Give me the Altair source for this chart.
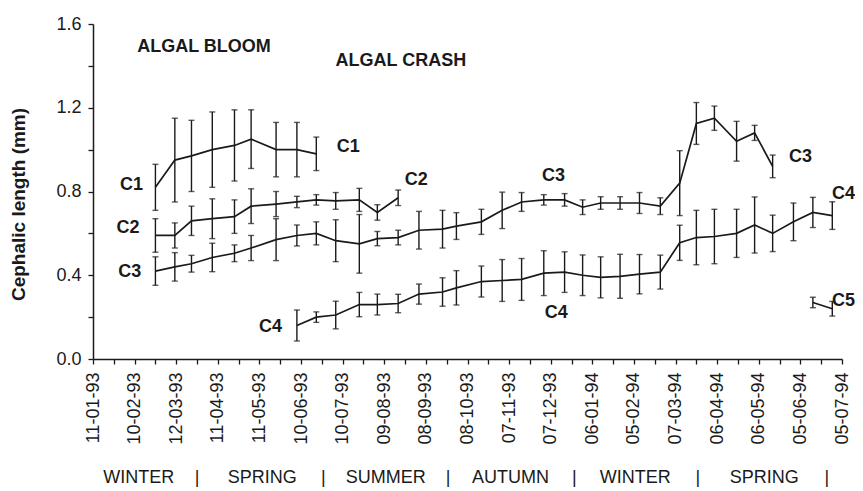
import altair as alt
import pandas as pd

# ---------------- data ----------------
x_tick_labels = ["11-01-93", "10-02-93", "12-03-93", "11-04-93", "11-05-93",
                 "10-06-93", "10-07-93", "09-08-93", "08-09-93", "08-10-93",
                 "07-11-93", "07-12-93", "06-01-94", "05-02-94", "07-03-94",
                 "06-04-94", "06-05-94", "05-06-94", "05-07-94"]

# sampling day = days after 11-01-93
c1_day = [45, 59, 71, 86, 102, 114, 132, 147, 161]
c1_mean = [0.82, 0.95, 0.97, 1.00, 1.02, 1.05, 1.00, 1.00, 0.98]
c1_sd = [0.11, 0.20, 0.17, 0.18, 0.17, 0.14, 0.13, 0.13, 0.08]

c2_day = [45, 59, 71, 86, 102, 114, 132, 147, 161, 175, 192, 205, 220]
c2_mean = [0.59, 0.59, 0.66, 0.67, 0.68, 0.73, 0.74, 0.75, 0.76, 0.755, 0.76, 0.70, 0.77]
c2_sd = [0.08, 0.06, 0.07, 0.095, 0.08, 0.083, 0.06, 0.027, 0.025, 0.04, 0.055, 0.037, 0.037]

c3_day = [45, 59, 71, 86, 102, 114, 132, 147, 161, 175, 192, 205, 220, 235, 252, 262,
          280, 295, 309, 325, 340, 353, 366, 380, 394, 409, 423, 435, 448, 464, 477, 490]
c3_mean = [0.42, 0.44, 0.455, 0.485, 0.505, 0.53, 0.57, 0.59, 0.60, 0.565, 0.55, 0.575,
           0.58, 0.615, 0.62, 0.635, 0.655, 0.71, 0.75, 0.76, 0.76, 0.725, 0.745, 0.745,
           0.745, 0.73, 0.84, 1.125, 1.15, 1.04, 1.08, 0.92]
c3_sd = [0.068, 0.068, 0.04, 0.068, 0.04, 0.06, 0.1, 0.05, 0.055, 0.1, 0.14, 0.034,
         0.035, 0.09, 0.09, 0.064, 0.06, 0.087, 0.045, 0.025, 0.03, 0.035, 0.03, 0.03,
         0.05, 0.04, 0.155, 0.1, 0.058, 0.095, 0.036, 0.054]

c4_day = [147, 161, 175, 192, 205, 220, 235, 252, 262, 280, 295, 309, 325, 340, 353,
          366, 380, 394, 409, 423, 435, 448, 464, 477, 490, 505, 519, 533]
c4_mean = [0.16, 0.20, 0.21, 0.26, 0.26, 0.265, 0.31, 0.32, 0.34, 0.37, 0.375, 0.38,
           0.41, 0.415, 0.40, 0.39, 0.395, 0.405, 0.415, 0.555, 0.58, 0.585, 0.60,
           0.64, 0.60, 0.655, 0.70, 0.685]
c4_sd = [0.074, 0.025, 0.066, 0.058, 0.05, 0.044, 0.048, 0.068, 0.082, 0.074, 0.1,
         0.1, 0.107, 0.097, 0.097, 0.098, 0.105, 0.094, 0.081, 0.084, 0.13, 0.13,
         0.115, 0.134, 0.087, 0.09, 0.072, 0.066]

c5_day = [519, 533]
c5_mean = [0.27, 0.24]
c5_sd = [0.025, 0.035]

stage_names = ["C1", "C2", "C3", "C4", "C5"]

# stage labels written on the plot (day, length)
label_text = ["C1", "C1", "C2", "C2", "C3", "C3", "C3", "C4", "C4", "C4", "C5"]
label_day = [27.7, 184, 25.2, 233, 26.5, 332, 510, 128, 334, 541, 541]
label_val = [0.83, 1.014, 0.624, 0.855, 0.417, 0.874, 0.966, 0.151, 0.22, 0.79, 0.277]

event_text = ["ALGAL BLOOM", "ALGAL CRASH"]
event_day = [80, 222]
event_val = [1.49, 1.423]

season_text = ["WINTER", "|", "SPRING", "|", "SUMMER", "|", "AUTUMN", "|",
               "WINTER", "|", "SPRING", "|"]
season_day = [33, 75, 122, 166, 211, 256, 301, 347, 391, 436, 484, 529]

# ---------------- tables ----------------
rows = []
for name, d, m, s in zip(stage_names,
                         [c1_day, c2_day, c3_day, c4_day, c5_day],
                         [c1_mean, c2_mean, c3_mean, c4_mean, c5_mean],
                         [c1_sd, c2_sd, c3_sd, c4_sd, c5_sd]):
    for di, mi, si in zip(d, m, s):
        rows.append({"stage": name, "day": di, "mean": mi, "sd": si})
df = pd.DataFrame(rows)

labels_df = pd.DataFrame({"t": label_text, "day": label_day, "val": label_val})
events_df = pd.DataFrame({"t": event_text, "day": event_day, "val": event_val})
seasons_df = pd.DataFrame({"t": season_text, "day": season_day})

INK = "#1a1a1a"
FONT = "Liberation Sans"

label_array = "[" + ",".join("'" + l + "'" for l in x_tick_labels) + "]"

x_scale = alt.Scale(domain=[0, 540], nice=False, zero=False)
y_scale = alt.Scale(domain=[0, 1.6], nice=False, zero=True)

x_axis = alt.Axis(
    values=list(range(0, 541, 15)),
    labelExpr="datum.value % 30 == 0 ? " + label_array + "[round(datum.value / 30)] : ''",
    labelAngle=-90, labelAlign="right", labelBaseline="middle",
    labelPadding=8, labelFontSize=18, labelFont=FONT, labelColor=INK,
    labelOverlap=False, labelFlush=False,
    tickSize=5, tickColor=INK, tickWidth=1.3,
    domainColor=INK, domainWidth=1.5, grid=False, title=None,
)
y_axis = alt.Axis(
    values=[round(i * 0.2, 1) for i in range(9)],
    labelExpr="round(datum.value * 10) % 4 == 0 ? format(datum.value, '.1f') : ''",
    labelPadding=7, labelFontSize=18, labelFont=FONT, labelColor=INK,
    labelOverlap=False, labelFlush=False,
    tickSize=5, tickColor=INK, tickWidth=1.3,
    domainColor=INK, domainWidth=1.5, grid=False,
    title="Cephalic length (mm)", titleFontSize=19, titleFontWeight="bold",
    titleFont=FONT, titleColor=INK, titleX=-65, titleY=180,
)

X = alt.X("day:Q", scale=x_scale, axis=x_axis)

base = alt.Chart(df).transform_calculate(
    lo="datum.mean - datum.sd", hi="datum.mean + datum.sd"
)

lines = base.mark_line(color=INK, strokeWidth=1.7).encode(
    x=X, y=alt.Y("mean:Q", scale=y_scale, axis=y_axis), detail="stage:N"
)
bars = base.mark_rule(color=INK, strokeWidth=1.4).encode(
    x=X, y=alt.Y("lo:Q", scale=y_scale, axis=y_axis), y2="hi:Q"
)
cap_lo = base.mark_tick(orient="horizontal", color=INK, size=6, thickness=1.4).encode(
    x=X, y=alt.Y("lo:Q", scale=y_scale, axis=y_axis)
)
cap_hi = base.mark_tick(orient="horizontal", color=INK, size=6, thickness=1.4).encode(
    x=X, y=alt.Y("hi:Q", scale=y_scale, axis=y_axis)
)

stage_labels = alt.Chart(labels_df).mark_text(
    font=FONT, fontSize=18, fontWeight="bold", color=INK,
    align="center", baseline="middle"
).encode(x=X, y=alt.Y("val:Q", scale=y_scale, axis=y_axis), text="t:N")

event_labels = alt.Chart(events_df).mark_text(
    font=FONT, fontSize=18, fontWeight="bold", color=INK,
    align="center", baseline="middle"
).encode(x=X, y=alt.Y("val:Q", scale=y_scale, axis=y_axis), text="t:N")

season_labels = alt.Chart(seasons_df).mark_text(
    font=FONT, fontSize=18, color=INK, align="center", baseline="middle"
).encode(x=X, y=alt.value(454), text="t:N")

chart = alt.layer(
    bars, cap_lo, cap_hi, lines, stage_labels, event_labels, season_labels
).properties(
    width=749, height=335,
    autosize=alt.AutoSizeParams(type="none"),
    padding={"left": 85, "top": 16, "right": 13, "bottom": 128},
    background="white",
).configure_view(stroke=None)

chart.save("out.html", embed_options={"renderer": "svg", "actions": False})
